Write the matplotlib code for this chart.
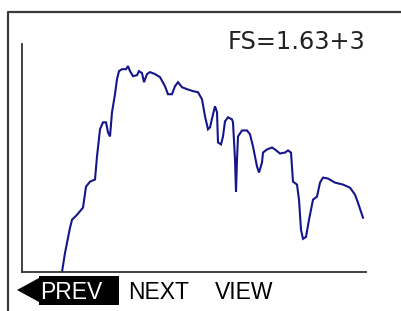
import matplotlib
matplotlib.use("Agg")
import matplotlib.pyplot as plt
from matplotlib.lines import Line2D
from matplotlib.patches import Polygon, Rectangle

# Spectrum data (channel, counts); full scale = 1630
channel = [40, 43, 48, 50, 55, 61, 64, 68, 73, 75, 78, 81, 84, 86, 88, 90, 93, 95, 97,
           100, 104, 106, 108, 111, 115, 117, 120, 122, 125, 128, 133, 138, 143, 146,
           150, 153, 156, 160, 165, 171, 176, 180, 183, 186, 188, 191, 193, 195, 196,
           199, 201, 203, 206, 210, 211, 213, 214, 215, 216, 220, 225, 228, 231, 235,
           237, 240, 241, 245, 250, 253, 258, 263, 266, 269, 271, 275, 277, 279,
           281, 284, 287, 291, 295, 298, 301, 306, 313, 321, 328, 333, 336, 341]
counts = [0, 136, 316, 373, 409, 460, 610, 646, 661, 826, 1020, 1070, 1070, 998,
          969, 1142, 1271, 1379, 1436, 1450, 1450, 1472, 1436, 1400, 1407, 1436,
          1422, 1357, 1415, 1429, 1415, 1393, 1328, 1271, 1271, 1328, 1357, 1321,
          1307, 1293, 1285, 1235, 1113, 1020, 1034, 1127, 1185, 1142, 926, 912,
          969, 1077, 1106, 1091, 1070, 804, 574, 804, 969, 1012, 1012, 984, 898,
          754, 711, 783, 854, 876, 890, 876, 847, 854, 869, 854, 646, 625, 517,
          302, 237, 251, 373, 517, 539, 639, 675, 668, 639, 625, 603, 553, 495, 388]
full_scale = 1630
fs_label = "FS=1.63+3"
buttons = ["PREV", "NEXT", "VIEW"]

W, H = 401, 311
fig = plt.figure(figsize=(W / 100, H / 100), dpi=100)
fig.patch.set_facecolor("white")

def fx(px):
    return px / W

def fy(py):
    return 1 - py / H

ax = fig.add_axes([fx(22), fy(272), 344 / W, 228 / H])
ax.plot(channel, counts, color="#16168a", lw=1.5, solid_joinstyle="miter")
ax.set_xlim(0, 344)
ax.set_ylim(0, full_scale)
for s in ["top", "right"]:
    ax.spines[s].set_visible(False)
for s in ["left", "bottom"]:
    ax.spines[s].set_color("#333333")
    ax.spines[s].set_linewidth(1.3)
ax.set_xticks([])
ax.set_yticks([])
ax.patch.set_alpha(0)

# outer frame (top and left)
fig.add_artist(Line2D([fx(7.5), fx(7.5), fx(401)], [fy(311), fy(11.5), fy(11.5)],
                      transform=fig.transFigure, color="#3a3a3a", lw=1.6))

fig.text(fx(365), fy(49), fs_label, ha="right", va="baseline",
         fontsize=17.3, family="DejaVu Sans", color="#222222")

# PREV button with arrow
fig.add_artist(Polygon([[fx(17), fy(290)], [fx(39), fy(278)], [fx(39), fy(302)]],
                       closed=True, transform=fig.transFigure, color="black", lw=0))
fig.add_artist(Rectangle((fx(39), fy(305)), fx(80), 29 / H,
                         transform=fig.transFigure, color="black", lw=0))
xs = [40, 128, 215]
cols = ["white", "black", "black"]
for b, x, c in zip(buttons, xs, cols):
    fig.text(fx(x), fy(299), b, ha="left", va="baseline", fontsize=16.5,
             family="Liberation Sans", color=c)

fig.savefig("out.png", dpi=100)
